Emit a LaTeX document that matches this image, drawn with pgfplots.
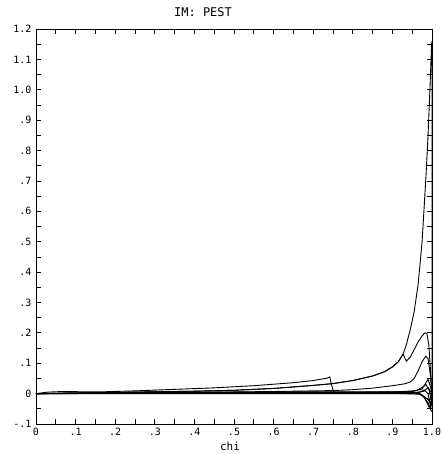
\documentclass[border=0pt]{standalone}
\usepackage{pgfplots}
\pgfplotsset{compat=1.18}
\usepackage{fontspec}
\setmainfont{DejaVu Sans Mono}
\begin{document}
\begin{tikzpicture}[x=1pt,y=1pt]
\useasboundingbox (0,0) rectangle (441,454);
\begin{axis}[at={(36pt,30pt)}, anchor=south west, scale only axis,
  width=396pt, height=395pt,
  xmin=0, xmax=1, ymin=-0.1, ymax=1.2,
  xtick={0,0.1,0.2,0.3,0.4,0.5,0.6,0.7,0.8,0.9,1.0},
  xticklabels={0,.1,.2,.3,.4,.5,.6,.7,.8,.9,1.0},
  ytick={-0.1,0,0.1,0.2,0.3,0.4,0.5,0.6,0.7,0.8,0.9,1.0,1.1,1.2},
  yticklabels={-.1,0,.1,.2,.3,.4,.5,.6,.7,.8,.9,1.0,1.1,1.2},
  minor x tick num=1, minor y tick num=1,
  tick align=inside, major tick length=5pt, minor tick length=5pt,
  every tick/.style={black, line width=0.7pt},
  axis line style={line width=0.9pt},
  ticklabel style={font=\fontsize{10}{10}\selectfont},
  xticklabel style={yshift=-1pt},
  yticklabel style={xshift=-1pt},
  clip=false,
  cycle list={{black}},
  every axis plot post/.append style={black, line width=0.9pt, solid, mark=none},
]
% step curve
\addplot coordinates {(0,0)(0.03,0.005)(0.07,0.007)(0.12,0.006)(0.17,0.006)(0.25,0.009)(0.35,0.014)(0.45,0.019)(0.55,0.026)(0.65,0.036)(0.70,0.043)(0.735,0.051)(0.742,0.055)(0.746,0.03)(0.752,0.004)(0.8,0.004)(0.9,0.005)(0.95,0.007)(0.975,0.015)(0.99,0.047)(0.997,0.02)(1.0,-0.02)};
% big curve
\addplot coordinates {(0,0)(0.1,0.002)(0.2,0.004)(0.3,0.006)(0.4,0.008)(0.5,0.011)(0.6,0.017)(0.7,0.027)(0.75,0.033)(0.8,0.043)(0.85,0.058)(0.88,0.072)(0.9,0.088)(0.915,0.105)(0.927,0.13)(0.935,0.16)(0.945,0.21)(0.955,0.27)(0.965,0.36)(0.975,0.5)(0.985,0.72)(0.99,0.85)(0.995,1.01)(0.999,1.15)(1.0,1.16)(1.0,0)};
% curve peaking at 0.2
\addplot coordinates {(0,0)(0.1,0.002)(0.2,0.004)(0.3,0.006)(0.4,0.008)(0.5,0.011)(0.6,0.017)(0.7,0.027)(0.75,0.033)(0.8,0.043)(0.85,0.058)(0.88,0.072)(0.9,0.088)(0.915,0.105)(0.927,0.13)(0.935,0.107)(0.945,0.12)(0.955,0.145)(0.965,0.17)(0.975,0.19)(0.982,0.2)(0.987,0.198)(0.992,0.16)(0.996,0.08)(1.0,0)};
% curve peaking at 0.125
\addplot coordinates {(0,0)(0.2,0.002)(0.4,0.004)(0.6,0.007)(0.75,0.01)(0.8,0.013)(0.85,0.018)(0.9,0.026)(0.93,0.032)(0.945,0.038)(0.955,0.05)(0.965,0.075)(0.975,0.105)(0.984,0.123)(0.99,0.115)(0.995,0.07)(1.0,0)};
% bundle
\addplot coordinates {(0,0)(0.5,0.003)(0.9,0.005)(0.94,0.008)(0.96,0.01)(0.975,0.02)(0.985,0.03)(0.993,0.01)(1.0,-0.03)};
\addplot coordinates {(0,0)(0.5,0.0015)(0.9,0.002)(0.96,0.002)(0.975,-0.005)(0.99,-0.03)(0.997,-0.05)(1.0,-0.01)};
\addplot coordinates {(0,0)(0.5,0.0)(0.95,0)(0.97,0.005)(0.98,0.012)(0.99,0.0)(0.996,-0.04)(1.0,0)};
\addplot coordinates {(0,0)(0.5,0.004)(0.9,0.004)(0.96,0.003)(0.98,-0.01)(0.993,-0.045)(1.0,-0.06)};
\addplot coordinates {(0,0)(0.5,0.001)(0.9,0.001)(0.97,-0.002)(0.985,-0.015)(0.995,-0.02)(1.0,0.01)};
\addplot coordinates {(0,0)(0.3,0.005)(0.9,0.006)(0.95,0.006)(0.97,0.0)(0.99,-0.02)(1.0,-0.04)};
\addplot coordinates {(0,0)(0.3,0.003)(0.9,0.003)(0.96,0.004)(0.98,0.008)(0.99,0.02)(1.0,0.0)};
\end{axis}
\node[font=\fontsize{12}{12}\selectfont, anchor=base] at (203,437) {IM: PEST};
\node[font=\fontsize{11}{11}\selectfont, anchor=base] at (230,4) {chi};
\end{tikzpicture}
\end{document}
